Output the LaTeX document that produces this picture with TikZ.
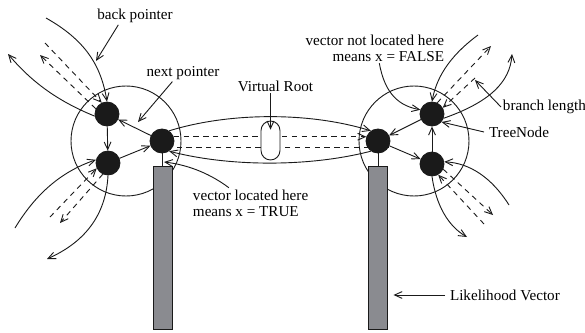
\documentclass[tikz,border=0pt]{standalone}
\usepackage{fontspec}
\setmainfont{Liberation Serif}
\usetikzlibrary{arrows.meta}
\definecolor{Ink}{HTML}{1A1A1A}
\definecolor{VecGray}{HTML}{8A8B90}

\begin{document}
\begin{tikzpicture}[
  x=0.66pt,y=-0.66pt,line width=0.6pt,
  >={Straight Barb[length=5pt,width=4.5pt]},
  tnode/.style={circle,draw=Ink,fill=Ink,minimum size=15.8pt,inner sep=0pt},
  ring/.style={circle,draw=Ink,minimum size=72.6pt,inner sep=0pt},
  vec/.style={rectangle,draw=Ink,fill=VecGray,minimum width=12.5pt,minimum height=107pt,inner sep=0pt},
  vroot/.style={rectangle,rounded corners=6.2pt,draw=Ink,fill=white,minimum width=12.5pt,minimum height=25.7pt,inner sep=0pt},
  ptr/.style={draw=Ink,->},
  blen/.style={draw=Ink,->,dash pattern=on 3.5pt off 3pt},
  lbl/.style={font=\fontsize{10}{10.5}\selectfont,inner sep=1pt}
]
\useasboundingbox (0,0) rectangle (585,333);
% the two subtrees with their likelihood vectors
\node[ring] (lring) at (126,141) {};
\node[ring] (rring) at (414,141) {};
\node[vec] (lvec) at (162.5,248) {};
\node[vec] (rvec) at (377.5,248) {};
\node[tnode] (ltop) at (107,114) {};
\node[tnode] (lbot) at (108,163) {};
\node[tnode] (lroot) at (162,141) {};
\node[tnode] (rroot) at (378,141) {};
\node[tnode] (rtop) at (432,114) {};
\node[tnode] (rbot) at (432,164) {};
\draw[draw=Ink] (lroot) -- (lroot |- lvec.north);
\draw[draw=Ink] (rroot) -- (rroot |- rvec.north);
% next pointers round each ring
\foreach \a/\b in {ltop/lbot,lbot/lroot,lroot/ltop,rroot/rbot,rbot/rtop,rtop/rroot} {
  \draw[ptr] (\a) -- (\b);
}
% branches leaving the outer nodes
\coordinate (ltop-in) at (46,18);
\coordinate (ltop-out) at (8,54);
\coordinate (ltop-din) at (45,43);
\coordinate (ltop-dout) at (40,55);
\coordinate (lbot-in) at (15,228);
\coordinate (lbot-out) at (47,259);
\coordinate (lbot-din) at (50,217);
\coordinate (lbot-dout) at (60,223);
\coordinate (rtop-in) at (478,35);
\coordinate (rtop-out) at (512,54);
\coordinate (rtop-din) at (475,78);
\coordinate (rtop-dout) at (491,46);
\coordinate (rbot-in) at (509,205);
\coordinate (rbot-out) at (467,237);
\coordinate (rbot-din) at (484,224);
\coordinate (rbot-dout) at (493,215);
\draw[ptr] (ltop-in) .. controls (85,40) and (101,65) .. (ltop.90);
\draw[ptr] (ltop.190) .. controls (55,100) and (30,80) .. (ltop-out);
\draw[blen] (ltop-din) -- (ltop.115);
\draw[blen] (ltop.155) -- (ltop-dout);
\draw[ptr] (lbot-in) .. controls (35,195) and (60,172) .. (lbot.165);
\draw[ptr] (lbot.270) .. controls (106,215) and (85,242) .. (lbot-out);
\draw[blen] (lbot-din) -- (lbot.205);
\draw[blen] (lbot.245) -- (lbot-dout);
\draw[ptr] (rtop-in) .. controls (447,58) and (436,80) .. (rtop.90);
\draw[ptr] (rtop.340) .. controls (490,102) and (510,82) .. (rtop-out);
\draw[blen] (rtop-din) -- (rtop.30);
\draw[blen] (rtop.65) -- (rtop-dout);
\draw[ptr] (rbot-in) .. controls (492,178) and (470,163) .. (rbot.10);
\draw[ptr] (rbot.270) .. controls (436,205) and (448,226) .. (rbot-out);
\draw[blen] (rbot-din) -- (rbot.300);
\draw[blen] (rbot.335) -- (rbot-dout);
% branch through the virtual root
\draw[ptr] (lroot.55) .. controls (230,112) and (310,112) .. (rroot.125);
\draw[ptr] (rroot.235) .. controls (310,167) and (230,167) .. (lroot.305);
\draw[blen] (lroot.20) -- (rroot.160);
\draw[blen] (rroot.330) -- (lroot.210);
\node[vroot] (vroot) at (270.5,140.5) {};
% labels
\node[lbl] (bplabel) at (135,16) {back pointer};
\coordinate (bptip) at (96,61);
\draw[ptr] ([xshift=-11pt]bplabel.south) -- (bptip);
\node[lbl] (nplabel) at (183,73) {next pointer};
\coordinate (nptip) at (138,122);
\draw[ptr] ([xshift=-7pt]nplabel.south) -- (nptip);
\node[lbl] (vrlabel) at (275.5,86) {Virtual Root};
\draw[ptr] (vrlabel.south -| vroot.north) -- ([yshift=-6pt]vroot.north);
\node[lbl,align=left,anchor=west] (truelabel) at (191,203) {vector located here\\means x = TRUE};
\coordinate (truetip) at (164,162);
\draw[ptr] ([xshift=25pt]truelabel.north west) .. controls (212,175) and (190,165) .. (truetip);
\node[lbl,align=right,anchor=east] (falselabel) at (446,48) {vector not located here\\means x = FALSE};
\draw[ptr] ([xshift=-44pt]falselabel.south east) .. controls (385,95) and (400,106) .. (rtop.160);
\node[lbl,anchor=west] (bllabel) at (501,107) {branch length};
\coordinate (bltip) at (475,80);
\draw[ptr] (bllabel.west) -- (bltip);
\node[lbl,anchor=west,inner sep=3pt] (tnlabel) at (484,132) {TreeNode};
\draw[ptr] (tnlabel.west) -- (rtop.320);
\node[lbl,anchor=west,inner sep=3pt] (lvlabel) at (445,295) {Likelihood Vector};
\draw[ptr,shorten >=4pt] (lvlabel.west) -- (lvlabel.west -| rvec.east);
\end{tikzpicture}
\end{document}
